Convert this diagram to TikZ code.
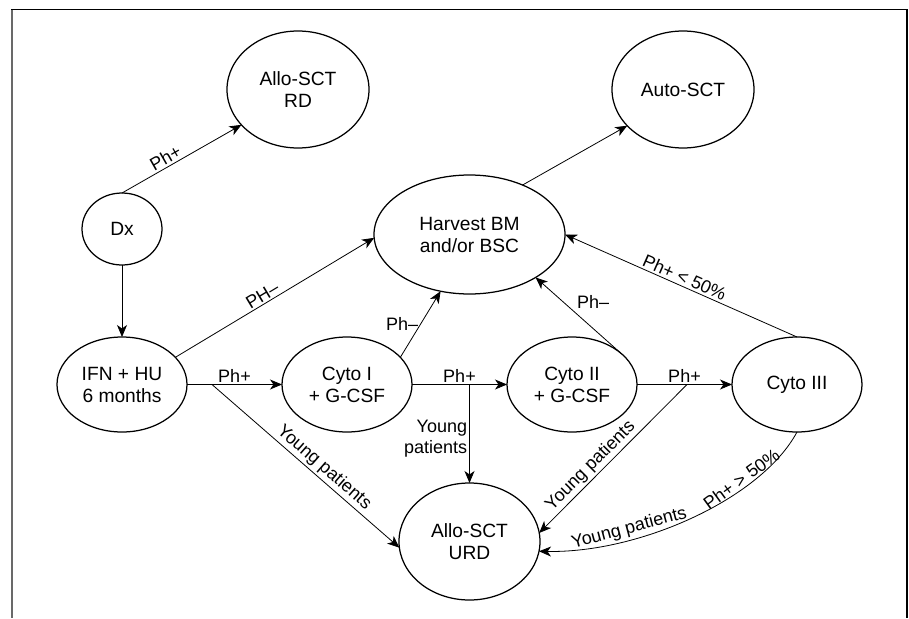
\documentclass[tikz,border=0pt]{standalone}
\usepackage{fontspec}
\setmainfont{Liberation Sans}
\usepackage{tikz}
\usetikzlibrary{shapes.geometric, arrows.meta, positioning, calc}
\definecolor{FrameGray}{RGB}{105,105,105}

\begin{document}
\begin{tikzpicture}[x=1pt, y=1pt,
    st/.style={ellipse, draw, line width=1.25pt, inner sep=0pt, outer sep=0pt,
               minimum width=130pt, minimum height=95pt, align=center,
               font=\fontsize{19.2}{22}\selectfont},
    lbl/.style={font=\fontsize{18}{21}\selectfont, inner sep=2pt},
    arr/.style={-{Stealth[length=12pt, width=10pt, inset=3.5pt]}, line width=0.8pt}
  ]
  \useasboundingbox (0,0) rectangle (909,-618);
  % Frame
  \draw[FrameGray, line width=2.2pt] (12,-9.5) -- (12,-618);
  \draw[line width=1.4pt] (11,-9.5) -- (907,-9.5) -- (907,-618);

  % Transplant targets
  \node[st, minimum width=142pt, minimum height=117pt] (rd)   at (298,-89.5) {Allo-SCT\\RD};
  \node[st, minimum width=142pt, minimum height=117pt] (auto) at (683,-89.5) {Auto-SCT};
  % Diagnosis and harvest
  \node[st, minimum width=80pt, minimum height=72pt]   (dx)   at (122,-229) {Dx};
  \node[st, minimum width=191pt, minimum height=119pt] (harv) at (469.5,-234.5) {Harvest BM\\and/or BSC};
  % Treatment row
  \node[st] (ifn)   at (122,-384.5) {IFN + HU\\6 months};
  \node[st] (cyto1) at (347,-384.5) {Cyto I\\+ G-CSF};
  \node[st] (cyto2) at (572,-384.5) {Cyto II\\+ G-CSF};
  \node[st] (cyto3) at (797,-384.5) {Cyto III};
  % Unrelated donor
  \node[st, minimum width=141pt, minimum height=117pt] (urd)  at (469.5,-541.5) {Allo-SCT\\URD};

  % Branch points
  \coordinate (yp1) at (212,-384.5);
  \coordinate (yp2) at (urd.north |- cyto1.east);
  \coordinate (yp3) at (687,-384.5);

  % From diagnosis
  \draw[arr] (dx.north) -- node[lbl, above, sloped, pos=0.4] {Ph+} (rd.212);
  \draw[arr] (dx.south) -- (ifn.north);

  % Along the treatment row
  \draw[arr] (ifn.east) -- node[lbl, above] {Ph+} (cyto1.west);
  \draw[arr] (cyto1.east) -- node[lbl, above] {Ph+} (cyto2.west);
  \draw[arr] (cyto2.east) -- node[lbl, above] {Ph+} (cyto3.west);

  % To harvest
  \draw[arr] (ifn.27) -- node[lbl, above, sloped, pos=0.46] {PH–} (harv.182);
  \draw[arr] (cyto1.27) -- node[lbl, left] {Ph–} (harv.243);
  \draw[arr] (cyto2.33) -- node[lbl, right, xshift=12pt, pos=0.68] {Ph–} (harv.-33);
  \draw[arr] (cyto3.north) -- node[lbl, above, sloped] {Ph+ < 50\%} (harv.east);
  \draw[arr] (harv.43) -- (auto.213);

  % Young patients
  \draw[arr] (yp1) -- node[lbl, above, sloped, pos=0.56] {Young patients} (urd.185);
  \draw[arr] (yp2) -- node[lbl, left, align=right, pos=0.55] {Young\\patients} (urd.north);
  \draw[arr] (yp3) -- node[lbl, above, sloped, pos=0.6] {Young patients} (urd.7);
  \draw[arr] (cyto3.south) .. controls +(-36,-67) and +(100,-2) ..
        node[lbl, above, sloped, pos=0.29] {Ph+ > 50\%}
        node[lbl, above, sloped, pos=0.7] {Young patients} (urd.-8);
\end{tikzpicture}
\end{document}
